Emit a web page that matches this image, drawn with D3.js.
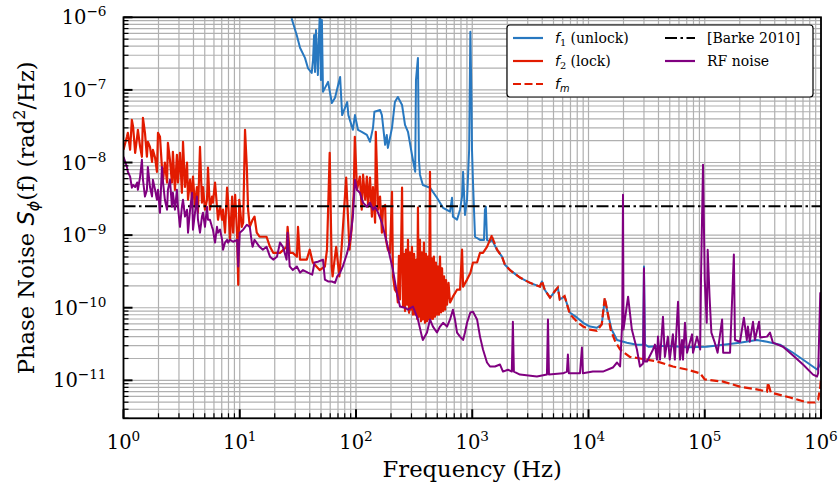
<!DOCTYPE html>
<html>
<head>
<meta charset="utf-8">
<script src="https://cdn.jsdelivr.net/npm/d3@7"></script>
<style>
    body { margin: 0; background: #fff; }
    svg text { font-family: "DejaVu Serif", serif; fill: #000; }
    .math { font-family: "DejaVu Sans", sans-serif; font-style: italic; }
</style>
</head>
<body>
<div id="chart-area"></div>
<script>
// phase noise spectra, [frequency (Hz), S_phi (rad^2/Hz)]
var f1Unlock = [[27.9,9.7e-7],[30.9,5.7e-7],[33,3.8e-7],[36.4,2.76e-7],[38.6,2.0e-7],[41.6,1.71e-7],[42.7,2.6e-7],[43.6,5.7e-7],[44.4,1.77e-7],[45.3,6.7e-7],[47.0,1.6e-7],[47.9,4.9e-7],[48.9,1.2e-6],[49.9,1.37e-7],[50.9,9.2e-7],[52.0,9.4e-8],[57.5,1.29e-7],[62,6.6e-8],[66,7.8e-8],[73,1.51e-7],[76,4.5e-8],[84,6.8e-8],[86,4.5e-8],[94,2.82e-8],[98,4.5e-8],[104,2.82e-8],[112,2.65e-8],[124,2.4e-8],[132,1.93e-8],[140,3.0e-8],[144,5.0e-8],[161,5.3e-8],[167,4.5e-8],[178,1.75e-8],[184,2.4e-8],[188,1.59e-8],[204,3.0e-8],[216,6.8e-8],[229,8.0e-8],[249,6.2e-8],[264,3.3e-8],[280,2.65e-8],[303,1.28e-8],[323,7.45e-9],[328,1.37e-7],[341,2.76e-7],[348,1.09e-8],[355,6.8e-9],[376,4.9e-9],[433,4.5e-9],[497,3.27e-9],[561,2.38e-9],[644,2.1e-9],[670,3.27e-9],[682,1.8e-9],[740,1.63e-9],[785,2.24e-9],[817,3.4e-9],[834,7.45e-9],[866,1.9e-9],[902,3.07e-9],[940,1.5e-8],[963,6.3e-7],[985,7.3e-8],[995,1.5e-8],[1015,5.3e-9],[1056,9.5e-10],[1166,8.6e-10],[1262,8.6e-10],[1285,2.24e-9],[1310,2.46e-9],[1339,8.6e-10],[1421,8.1e-10],[1478,8.6e-10],[1633,6.3e-10],[1802,5.05e-10],[1910,3.9e-10],[2114,3.3e-10],[2575,2.6e-10],[3140,2.2e-10],[3825,1.95e-10],[3975,2.3e-10],[4200,1.77e-10],[4665,1.38e-10],[5130,1.67e-10],[5445,1.9e-10],[5660,1.3e-10],[6230,1.42e-10],[6900,8.6e-11],[7980,7.3e-11],[9000,6.2e-11],[10300,5.5e-11],[11800,5.3e-11],[13000,5.9e-11],[13800,1.3e-10],[14600,8.6e-11],[15800,5.0e-11],[17600,3.6e-11],[21400,3.3e-11],[26100,3.1e-11],[29500,3.1e-11],[30000,3.7e-10],[30600,3.1e-11],[33000,2.9e-11],[47000,3.0e-11],[70000,2.85e-11],[104000,2.9e-11],[144000,3.1e-11],[200000,3.3e-11],[280000,3.6e-11],[343000,3.4e-11],[444000,3.1e-11],[575000,2.4e-11],[760000,1.76e-11],[925000,1.41e-11],[986000,1.65e-11],[1000000,1.9e-11]];

var f2Lock = [[1,1.5e-8],[1.07,2.26e-8],[1.09,2.56e-8],[1.14,1.5e-8],[1.18,3.87e-8],[1.21,3.1e-8],[1.26,1.36e-8],[1.31,2.26e-8],[1.33,2.82e-8],[1.39,1.64e-8],[1.44,1.2e-8],[1.47,4.12e-8],[1.53,2.56e-8],[1.59,1.2e-8],[1.62,1.93e-8],[1.69,1.64e-8],[1.76,1.02e-8],[1.79,1.5e-8],[1.87,1.16e-8],[1.94,7.45e-9],[1.98,2.56e-8],[2.06,2.26e-8],[2.14,8.7e-9],[2.19,5.8e-9],[2.27,1.0e-8],[2.37,5.3e-9],[2.41,1.87e-8],[2.51,1.09e-8],[2.61,5.3e-9],[2.66,1.4e-8],[2.77,4.2e-9],[2.88,1.28e-8],[2.94,5.3e-9],[3.06,1.36e-8],[3.18,3.83e-9],[3.25,1.93e-8],[3.38,4.6e-9],[3.52,1.0e-8],[3.59,3.07e-9],[3.74,5.8e-9],[3.89,3.07e-9],[3.96,6.4e-9],[4.12,2.46e-9],[4.28,4.6e-9],[4.37,2.03e-9],[4.55,1.64e-8],[4.73,2.8e-9],[4.83,4.6e-9],[5.02,2.24e-9],[5.23,3.07e-9],[5.33,8.5e-9],[5.54,2.24e-9],[5.77,3.4e-9],[5.88,2.8e-9],[6.13,5.3e-9],[6.37,2.46e-9],[6.5,1.63e-9],[6.77,2.46e-9],[7.05,1.63e-9],[7.18,2.24e-9],[7.47,1.08e-9],[7.78,4.5e-9],[7.93,3.07e-9],[8.25,8.6e-10],[8.6,3.4e-9],[8.77,1.08e-9],[9.13,3.6e-9],[9.5,9.5e-10],[9.7,2.07e-10],[9.9,3.07e-9],[10.4,1.3e-9],[10.7,1.48e-9],[11.1,2.82e-8],[11.5,8.7e-9],[11.8,2.24e-9],[12.2,1.3e-9],[12.9,1.63e-9],[13.4,1.8e-9],[14.0,1.08e-9],[14.8,9.5e-10],[17.0,9.5e-10],[18.2,6.9e-10],[19.4,5.7e-10],[22.2,5.7e-10],[25.3,6.9e-10],[25.8,1.3e-9],[26.9,5.7e-10],[28.6,5.7e-10],[31.0,5.05e-10],[31.7,1.3e-9],[33,4.6e-10],[37.7,4.6e-10],[40,6.3e-10],[42.5,4.2e-10],[48.7,3.3e-10],[54,3.7e-10],[56.3,6.3e-10],[59.4,1.36e-8],[61.8,3.7e-10],[62.9,2.7e-10],[67.5,6.9e-10],[71.9,2.7e-10],[75.3,6.9e-10],[82.3,6.2e-9],[87.9,6.3e-10],[91.6,1.19e-9],[95.6,3.83e-9],[97.7,2.26e-8],[102,4.2e-9],[108,6.4e-9],[112,2.24e-9],[115,6.8e-9],[120,3.07e-9],[124,6.4e-9],[127,2.46e-9],[132,6.2e-9],[137,1.8e-9],[140,4.6e-9],[146,1.48e-9],[148,2.65e-8],[155,2.24e-9],[161,3.4e-9],[167,1.08e-9],[171,2.46e-9],[178,2.6e-9],[181,8.6e-10],[188,6.3e-10],[196,5.7e-10],[204,3.95e-9],[208,2.7e-10],[216,1.77e-10],[225,1.6e-10],[229,1.18e-10],[234,5.2e-10],[239,1.3e-10],[244,6.0e-10],[249,4.5e-9],[254,1.04e-10],[259,5.5e-10],[264,9e-11],[269,6.3e-10],[275,1.1e-10],[280,8.6e-10],[286,8.5e-11],[291,5.8e-10],[297,9.4e-11],[303,6.9e-10],[309,8e-11],[316,5.5e-10],[323,8.0e-11],[330,4.6e-10],[336,7e-11],[341,2.4e-9],[348,7.5e-11],[355,8.6e-10],[362,6.5e-11],[369,5.8e-10],[376,6.9e-11],[384,7.9e-10],[392,6.2e-11],[400,5.5e-10],[408,6.5e-11],[416,5.05e-10],[424,6.9e-11],[433,7.45e-9],[441,7e-11],[450,4.8e-10],[459,7e-11],[468,5.05e-10],[478,7.5e-11],[487,4.2e-10],[497,8e-11],[507,3.7e-10],[517,8e-11],[528,5.05e-10],[539,8.6e-11],[550,3.5e-10],[561,9e-11],[572,2.7e-10],[584,9.4e-11],[595,2.4e-10],[607,1.1e-10],[625,2.2e-10],[644,1.18e-10],[682,1.42e-10],[740,1.77e-10],[785,1.77e-10],[817,6.3e-10],[834,1.95e-10],[902,2.44e-10],[963,3.0e-10],[1015,4.2e-10],[1100,4.2e-10],[1166,5.7e-10],[1237,5.7e-10],[1339,6.9e-10],[1421,8.6e-10],[1478,1.0e-9]];

var fM = [[1478,9.5e-10],[1633,6.3e-10],[1802,5.05e-10],[1910,3.9e-10],[2114,3.3e-10],[2575,2.6e-10],[3140,2.2e-10],[3825,1.95e-10],[3975,2.35e-10],[4200,1.77e-10],[4665,1.38e-10],[5130,1.7e-10],[5445,1.9e-10],[5660,1.3e-10],[6230,1.45e-10],[6900,8.2e-11],[7980,6.4e-11],[9000,5.5e-11],[10300,5.0e-11],[11800,4.8e-11],[13000,5.9e-11],[13800,1.38e-10],[14600,8.6e-11],[15500,5.0e-11],[17000,3.4e-11],[18700,2.66e-11],[22700,2.1e-11],[27700,2.0e-11],[38800,1.82e-11],[53200,1.55e-11],[70000,1.41e-11],[91300,1.25e-11],[100000,1.03e-11],[144000,9.6e-12],[200000,8.2e-12],[280000,7.5e-12],[343000,7.0e-12],[350000,9.3e-12],[370000,6.8e-12],[542000,5.8e-12],[760000,4.95e-12],[890000,4.95e-12],[945000,5.4e-12],[986000,8.2e-12],[1000000,1.1e-11]];

var rfNoise = [[1,1.2e-8],[1.07,8.7e-9],[1.09,7.45e-9],[1.14,6.4e-9],[1.18,4.5e-9],[1.21,4.9e-9],[1.26,4.6e-9],[1.31,5.3e-9],[1.33,4.2e-9],[1.39,6.4e-9],[1.44,1.09e-8],[1.47,5.8e-9],[1.53,3.4e-9],[1.59,4.2e-9],[1.62,8.7e-9],[1.69,4.6e-9],[1.76,3.4e-9],[1.79,5.8e-9],[1.87,4.2e-9],[1.94,3.07e-9],[1.98,4.2e-9],[2.06,2.03e-9],[2.14,8.7e-9],[2.19,5.3e-9],[2.27,3.07e-9],[2.37,2.24e-9],[2.41,4.2e-9],[2.51,5.8e-9],[2.61,2.46e-9],[2.66,3.83e-9],[2.77,2.24e-9],[2.88,4.2e-9],[2.94,2.46e-9],[3.06,1.3e-9],[3.18,2.46e-9],[3.25,3.07e-9],[3.38,1.8e-9],[3.52,2.24e-9],[3.59,1.08e-9],[3.74,2.24e-9],[3.89,3.83e-9],[3.96,1.19e-9],[4.12,2.03e-9],[4.28,3.4e-9],[4.37,1.63e-9],[4.55,1.08e-9],[4.73,1.8e-9],[4.83,2.03e-9],[5.02,1.3e-9],[5.23,2.46e-9],[5.33,1.63e-9],[5.54,1.63e-9],[5.77,1.3e-9],[5.88,1.19e-9],[6.13,7.9e-10],[6.37,1.3e-9],[6.5,1.08e-9],[6.77,1.19e-9],[7.05,8.6e-10],[7.18,6.3e-10],[7.47,7.9e-10],[7.78,8.6e-10],[7.93,7.9e-10],[8.25,8.6e-10],[8.77,8.1e-10],[9.5,8.6e-10],[9.7,3.7e-10],[10.0,1.08e-9],[10.7,1.19e-9],[11.5,1.39e-9],[12.2,1.3e-9],[12.7,7.9e-10],[12.9,6.9e-10],[13.4,8.6e-10],[14.8,6.9e-10],[15.8,6.3e-10],[17.0,6.9e-10],[18.2,5.05e-10],[19.4,4.6e-10],[20.9,5.05e-10],[22.2,7.9e-10],[23.5,6.9e-10],[25.3,4.6e-10],[25.8,1.08e-9],[26.9,3.7e-10],[28.6,3.3e-10],[31,3.7e-10],[33,3.04e-10],[35,3.3e-10],[38.6,3.04e-10],[42,2.85e-10],[44,4.2e-10],[47,4.3e-10],[52,4.6e-10],[54,2.44e-10],[57.5,2.3e-10],[62,2.3e-10],[66,2.2e-10],[69,2.7e-10],[73,3.04e-10],[77,3.7e-10],[84,5.7e-10],[89,8.6e-10],[94,1.8e-9],[98,5.8e-9],[102,4.2e-9],[108,3.83e-9],[115,2.8e-9],[124,2.46e-9],[132,2.8e-9],[140,2.24e-9],[146,2.46e-9],[155,2.03e-9],[167,1.48e-9],[184,7.9e-10],[196,5.05e-10],[208,3.3e-10],[225,1.6e-10],[239,1.04e-10],[264,1.0e-10],[280,9.4e-11],[309,1.04e-10],[341,6.9e-11],[369,4.0e-11],[376,3.6e-11],[408,4.55e-11],[433,6.9e-11],[459,5.5e-11],[497,4.55e-11],[528,5.5e-11],[561,6.2e-11],[607,5.5e-11],[644,6.9e-11],[682,9.4e-11],[710,6.9e-11],[740,4.55e-11],[785,4.0e-11],[834,3.6e-11],[866,4.55e-11],[902,6.2e-11],[963,8.6e-11],[1015,8.8e-11],[1100,6.9e-11],[1166,4.0e-11],[1237,2.66e-11],[1339,1.76e-11],[1421,1.55e-11],[1569,1.55e-11],[1733,1.65e-11],[1838,1.32e-11],[2029,1.4e-11],[2190,1.32e-11],[2236,6.4e-11],[2281,1.32e-11],[2575,1.2e-11],[3600,1.13e-11],[4390,1.2e-11],[4480,6.9e-11],[4570,1.2e-11],[6040,1.25e-11],[6520,1.32e-11],[6650,2.27e-11],[6780,1.25e-11],[8450,1.25e-11],[8780,2.83e-11],[8950,1.25e-11],[10900,1.32e-11],[13300,1.32e-11],[16200,1.5e-11],[17600,1.76e-11],[18700,1.55e-11],[19500,6.2e-11],[19800,3.6e-9],[20000,5.0e-11],[21900,1.42e-10],[23600,5.0e-11],[26100,2.66e-11],[27700,1.55e-11],[29500,1.7e-11],[30000,3.5e-10],[30500,1.82e-11],[31900,1.82e-11],[35900,2.66e-11],[37300,3.1e-11],[38800,1.93e-11],[39600,4.0e-11],[41200,1.93e-11],[43700,7.5e-11],[45400,2.1e-11],[48200,4.0e-11],[50000,1.93e-11],[53200,4.3e-11],[55300,1.93e-11],[58900,1.21e-10],[61300,1.93e-11],[63800,3.6e-11],[65000,1.93e-11],[67600,6.2e-11],[70400,2.4e-11],[77800,4.3e-11],[79300,2.4e-11],[85800,4.0e-11],[91300,2.66e-11],[93000,3.04e-10],[96600,9.3e-9],[100000,2.44e-10],[104000,6.2e-11],[106000,6.3e-10],[110000,1.42e-10],[114000,4.55e-11],[122000,3.3e-11],[129000,2.4e-11],[141000,6.9e-11],[144000,2.4e-11],[165000,2.4e-11],[178000,5.4e-10],[182000,3.6e-11],[201000,3.4e-11],[217000,7.3e-11],[230000,3.6e-11],[235000,5.5e-11],[244000,3.4e-11],[260000,6.4e-11],[270000,3.6e-11],[293000,6.4e-11],[300000,3.9e-11],[343000,4.0e-11],[364000,4.55e-11],[386000,3.3e-11],[471000,2.9e-11],[575000,2.2e-11],[700000,1.65e-11],[854000,1.2e-11],[925000,1.13e-11],[945000,1.25e-11],[986000,1.6e-10],[1000000,1.6e-10]];

var barke2010 = 2.5e-9;  // flat reference level
var xExponents = [0, 1, 2, 3, 4, 5, 6];
var yExponents = [-11, -10, -9, -8, -7, -6];

var width = 838, height = 487;
var margin = {top: 17.3, right: 17, bottom: 68.7, left: 123.5};
var w = width - margin.left - margin.right,
    h = height - margin.top - margin.bottom;

var svg = d3.select("#chart-area").append("svg")
    .attr("width", width)
    .attr("height", height);

var g = svg.append("g")
    .attr("transform", "translate(" + margin.left + "," + margin.top + ")");

var x = d3.scaleLog().domain([1, 1e6]).range([0, w]);
var y = d3.scaleLog().domain([3e-12, 1e-6]).range([h, 0]);

// grid, major and minor
g.append("g")
    .selectAll("line.vgrid")
    .data(x.ticks())
    .enter().append("line")
    .attr("x1", function(d) { return x(d); })
    .attr("x2", function(d) { return x(d); })
    .attr("y1", 0).attr("y2", h)
    .style("stroke", "#b0b0b0").style("stroke-width", 1.2);

g.append("g")
    .selectAll("line.hgrid")
    .data(y.ticks())
    .enter().append("line")
    .attr("y1", function(d) { return y(d); })
    .attr("y2", function(d) { return y(d); })
    .attr("x1", 0).attr("x2", w)
    .style("stroke", "#b0b0b0").style("stroke-width", 1.2);

svg.append("clipPath").attr("id", "plot-clip")
    .append("rect").attr("width", w).attr("height", h);

var line = d3.line()
    .x(function(d) { return x(d[0]); })
    .y(function(d) { return y(d[1]); });

var lines = g.append("g").attr("clip-path", "url(#plot-clip)");

lines.append("path").datum(f1Unlock)
    .attr("d", line)
    .style("fill", "none").style("stroke", "#2878c0").style("stroke-width", 2)
    .style("stroke-linejoin", "round");

lines.append("path").datum(f2Lock)
    .attr("d", line)
    .style("fill", "none").style("stroke", "#e21b00").style("stroke-width", 2.2)
    .style("stroke-linejoin", "round");

lines.append("path").datum(fM)
    .attr("d", line)
    .style("fill", "none").style("stroke", "#e21b00").style("stroke-width", 2.2)
    .style("stroke-dasharray", "8,3.5");

lines.append("line")
    .attr("x1", 0).attr("x2", w)
    .attr("y1", y(barke2010)).attr("y2", y(barke2010))
    .style("stroke", "#000").style("stroke-width", 2)
    .style("stroke-dasharray", "12,3.5,2.5,3.5");

lines.append("path").datum(rfNoise)
    .attr("d", line)
    .style("fill", "none").style("stroke", "#800080").style("stroke-width", 2)
    .style("stroke-linejoin", "round");

// ticks pointing inwards
function isMajor(d) { return Math.abs(Math.log10(d) - Math.round(Math.log10(d))) < 1e-6; }

g.append("g").selectAll("line")
    .data(x.ticks())
    .enter().append("line")
    .attr("x1", function(d) { return x(d); })
    .attr("x2", function(d) { return x(d); })
    .attr("y1", h)
    .attr("y2", function(d) { return isMajor(d) ? h - 9 : h - 5; })
    .style("stroke", "#000")
    .style("stroke-width", function(d) { return isMajor(d) ? 2 : 1.2; });

g.append("g").selectAll("line")
    .data(y.ticks())
    .enter().append("line")
    .attr("y1", function(d) { return y(d); })
    .attr("y2", function(d) { return y(d); })
    .attr("x1", 0)
    .attr("x2", function(d) { return isMajor(d) ? 9 : 5; })
    .style("stroke", "#000")
    .style("stroke-width", function(d) { return isMajor(d) ? 2 : 1.2; });

// frame
g.append("rect")
    .attr("width", w).attr("height", h)
    .style("fill", "none").style("stroke", "#000").style("stroke-width", 1.8);

// tick labels 10^n
var xl = g.append("g").selectAll("text")
    .data(xExponents)
    .enter().append("text")
    .attr("x", function(d) { return x(Math.pow(10, d)); })
    .attr("y", h + 31)
    .attr("text-anchor", "middle")
    .style("font-size", "19.5px");
xl.append("tspan").text("10");
xl.append("tspan").attr("dy", -8).style("font-size", "13.6px")
    .text(function(d) { return String(d).replace("-", "\u2212"); });

var yl = g.append("g").selectAll("text")
    .data(yExponents)
    .enter().append("text")
    .attr("x", -17)
    .attr("y", function(d) { return y(Math.pow(10, d)) + 7; })
    .attr("text-anchor", "end")
    .style("font-size", "19.5px");
yl.append("tspan").text("10");
yl.append("tspan").attr("dy", -8).style("font-size", "13.6px")
    .text(function(d) { return String(d).replace("-", "\u2212"); });

// axis titles
svg.append("text")
    .attr("x", margin.left + w / 2)
    .attr("y", 477)
    .attr("text-anchor", "middle")
    .style("font-size", "22.7px")
    .text("Frequency (Hz)");

var yt = svg.append("text")
    .attr("transform", "translate(34," + (margin.top + h / 2) + ") rotate(-90)")
    .attr("text-anchor", "middle")
    .style("font-size", "22.7px");
yt.append("tspan").text("Phase Noise ");
yt.append("tspan").attr("class", "math").text("S");
yt.append("tspan").attr("class", "math").attr("dy", 4.5).style("font-size", "15.9px").text("\u03d5");
yt.append("tspan").attr("dy", -4.5).text("(f) (rad");
yt.append("tspan").attr("dy", -9).style("font-size", "15.9px").text("2");
yt.append("tspan").attr("dy", 9).text("/Hz)");

// legend
var legend = svg.append("g");
legend.append("rect")
    .attr("x", 507).attr("y", 25).attr("width", 306).attr("height", 72).attr("rx", 3)
    .style("fill", "#fff").style("stroke", "#000").style("stroke-width", 1.2);

var legendItems = [
    {col: 0, row: 0, color: "#2878c0", dash: null, sym: "f", sub: "1", rest: " (unlock)"},
    {col: 0, row: 1, color: "#e21b00", dash: null, sym: "f", sub: "2", rest: " (lock)"},
    {col: 0, row: 2, color: "#e21b00", dash: "8,3.5", sym: "f", sub: "m", rest: ""},
    {col: 1, row: 0, color: "#000", dash: "12,3.5,2.5,3.5", sym: null, rest: "[Barke 2010]"},
    {col: 1, row: 1, color: "#800080", dash: null, sym: null, rest: "RF noise"}
];
var rowY = [38, 61, 84], colX = [513, 665];

legendItems.forEach(function(d) {
    var ly = rowY[d.row], lx = colX[d.col];
    legend.append("line")
        .attr("x1", lx).attr("x2", lx + 30)
        .attr("y1", ly).attr("y2", ly)
        .style("stroke", d.color).style("stroke-width", 2.2)
        .style("stroke-dasharray", d.dash);
    var t = legend.append("text")
        .attr("x", lx + 42).attr("y", ly + 5)
        .style("font-size", "14px");
    if (d.sym) {
        t.append("tspan").attr("class", "math").text(d.sym);
        t.append("tspan").attr("class", d.sub == "m" ? "math" : null)
            .attr("dy", 3).style("font-size", "9.8px").text(d.sub);
        t.append("tspan").attr("dy", -3).text(d.rest);
    } else {
        t.text(d.rest);
    }
});
</script>
</body>
</html>
